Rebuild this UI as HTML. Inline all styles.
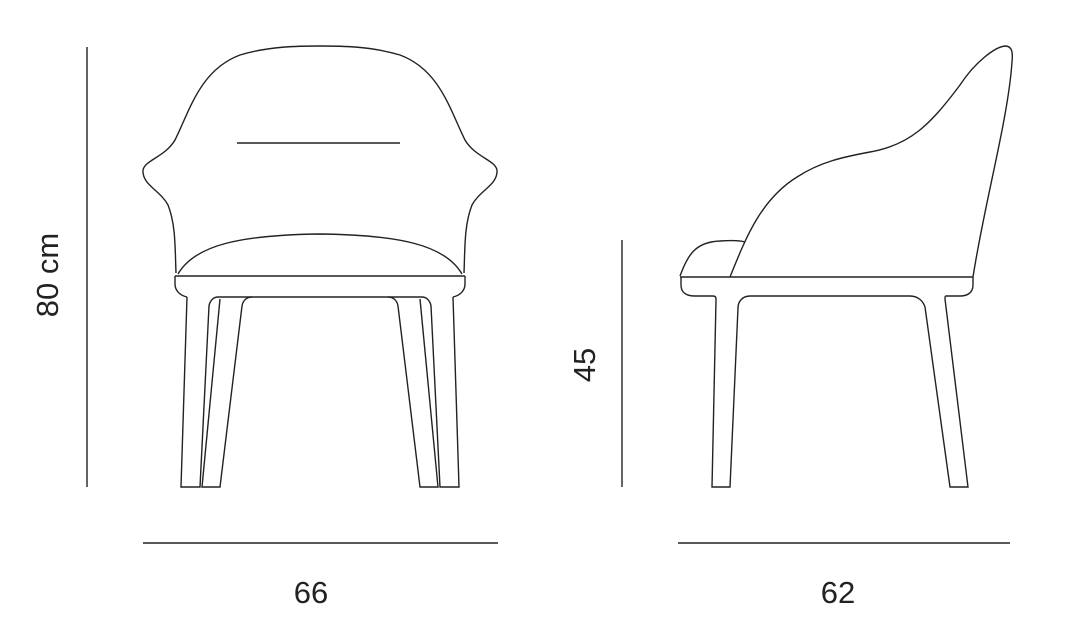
<!DOCTYPE html>
<html><head><meta charset="utf-8"><style>
html,body{margin:0;padding:0;background:#fff;width:1080px;height:640px;overflow:hidden}
text{font-family:"Liberation Sans",sans-serif;font-size:31px;fill:#222}
</style></head><body>
<svg width="1080" height="640" viewBox="0 0 1080 640">
<g fill="none" stroke="#222" stroke-width="1.4">
 <g>
  <path d="M176,273 C175,250 176,225 168,205 C160,190 142,185 143,170 C145,160 165,157 175,140 C190,110 200,70 240,55 C270,46 300,46 320,46 C340,46 370,46 400,55 C440,70 450,110 465,140 C475,157 495,160 497,170 C498,185 480,190 472,205 C464,225 465,250 464,273"/>
  <path d="M237,143 L400,143" stroke-width="1.6"/>
  <path d="M178,274 C195,245 240,235 320,234 C400,235 445,245 462,274"/>
  <path d="M175,276 L465,276 M175,276 L175,284 C175,292 182,296 187,297 M465,276 L465,284 C465,292 458,296 453,297 M218,297 L422,297"/>
  <path d="M187,297 L181,487 L200,487 L209,306 C210,300 214,297 218,297"/>
  <path d="M220,299 L202,487 L220,487 L242,306 C243,300 247,297 252,297"/>
  <path d="M453,297 L459,487 L440,487 L431,306 C430,300 426,297 422,297"/>
  <path d="M420,299 L438,487 L420,487 L398,306 C397,300 393,297 388,297"/>
 </g>
 <g>
  <path d="M730,277 C745,240 760,200 797,177 C820,162 843,157 870,152 C910,145 930,125 960,85 C975,62 995,47 1005,46 C1012,46 1013,52 1012,62 C1008,120 985,200 973,277"/>
  <path d="M680,276 C688,255 695,242 720,241 C735,240 742,241 745,242"/>
  <path d="M680,277 L973,277 M681,277 L681,285 C681,293 687,296 695,296 L713,296 C716,296 716,298 716,300 M973,277 L973,285 C973,293 967,296 960,296 L946,296 M750,296 L910,296 C918,296 923,301 925,307"/>
  <path d="M716,300 L712,487 L730,487 L738,308 C738,301 743,296 750,296"/>
  <path d="M925,307 L950,487 L968,487 L945,299 C945,297 945,296 946,296"/>
 </g>
 <g>
  <path d="M87,47 L87,487"/>
  <path d="M622,240 L622,487"/>
  <path d="M143,543 L498,543"/>
  <path d="M678,543 L1010,543"/>
 </g>
</g>
<text transform="translate(58,275) rotate(-90)" text-anchor="middle">80 cm</text>
<text transform="translate(595,365) rotate(-90)" text-anchor="middle">45</text>
<text x="311" y="603" text-anchor="middle">66</text>
<text x="838" y="603" text-anchor="middle">62</text>
</svg>
</body></html>
